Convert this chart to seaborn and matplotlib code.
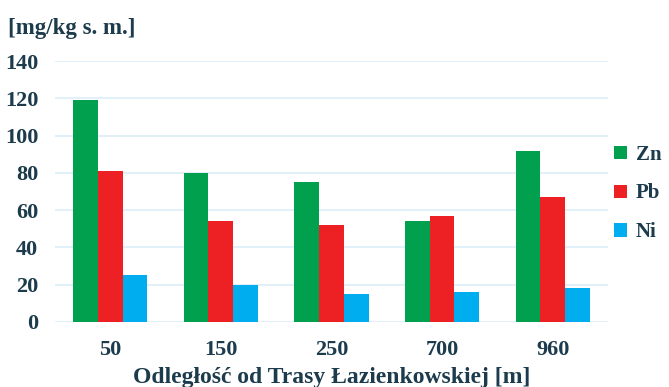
import matplotlib
matplotlib.use("Agg")
import matplotlib.pyplot as plt
import seaborn as sns
import pandas as pd
from matplotlib.patches import Patch

distances = ["50", "150", "250", "700", "960"]
zn = [119, 80, 75, 54, 92]
pb = [81, 54, 52, 57, 67]
ni = [25, 20, 15, 16, 18]
series = ["Zn", "Pb", "Ni"]
colors = ["#00a04f", "#ed2024", "#00aeef"]
yticks = [0, 20, 40, 60, 80, 100, 120, 140]

df = pd.DataFrame({
    "dist": distances * 3,
    "metal": ["Zn"] * 5 + ["Pb"] * 5 + ["Ni"] * 5,
    "val": zn + pb + ni,
})

sns.set_theme(style="white")
plt.rcParams["font.family"] = ["Liberation Serif", "DejaVu Serif"]
text_color = "#1c3b4c"

fig = plt.figure(figsize=(6.69, 3.87), dpi=100)
ax = fig.add_axes([0.082, 0.168, 0.827, 0.674])
sns.barplot(data=df, x="dist", y="val", hue="metal", hue_order=series,
            palette=colors, width=0.67, saturation=1, ax=ax, legend=False,
            edgecolor="none", zorder=3)
ax.set_ylim(0, 140)
ax.set_yticks(yticks)
ax.set_xlim(-0.5, 4.5)
ax.grid(axis="y", color="#dbeef8", linewidth=1.2, zorder=0)
for s in ax.spines.values():
    s.set_visible(False)
ax.tick_params(axis="both", length=0, colors=text_color, labelsize=16)
for lab in ax.get_yticklabels() + ax.get_xticklabels():
    lab.set_fontweight("bold")
ax.tick_params(axis="y", pad=12)
ax.tick_params(axis="x", pad=13)
ax.set_xlabel("Odległość od Trasy Łazienkowskiej [m]", fontsize=17,
              fontweight="bold", color=text_color, labelpad=5)
ax.set_ylabel("")
fig.text(0.012, 0.927, "[mg/kg s. m.]", fontsize=16.5, fontweight="bold",
         color=text_color, ha="left", va="center")

handles = [Patch(facecolor=c, edgecolor="none") for c in colors]
leg = fig.legend(handles, series, loc="center left",
                 bbox_to_anchor=(0.918, 0.50), frameon=False,
                 handlelength=0.6, handleheight=0.6, handletextpad=0.45,
                 labelspacing=0.9, borderpad=0, borderaxespad=0,
                 prop={"weight": "bold", "size": 15})
for t in leg.get_texts():
    t.set_color(text_color)

fig.savefig("out.png", dpi=100)
